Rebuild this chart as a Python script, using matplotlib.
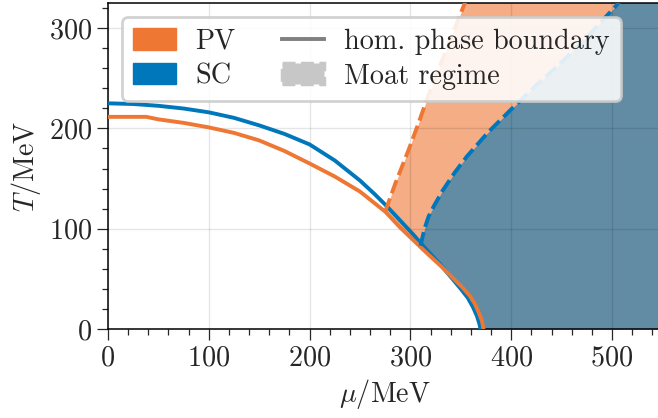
import numpy as np
import matplotlib
matplotlib.use("Agg")
import matplotlib.pyplot as plt
from matplotlib.lines import Line2D
from matplotlib.patches import Patch
from matplotlib.ticker import MultipleLocator

plt.rcParams['font.family'] = 'serif'
plt.rcParams['font.serif'] = ['cmr10']
plt.rcParams['mathtext.fontset'] = 'cm'
plt.rcParams['axes.formatter.use_mathtext'] = True

orange = '#EE7733'
blue = '#0077BB'

# homogeneous phase boundaries (mu in MeV, T in MeV)
mu_sc = [0, 25, 50, 75, 100, 125, 150, 175, 200, 225, 250, 265, 277, 290,
         303, 316, 330, 340, 350, 357, 362, 366, 368.5, 369.5]
T_sc = [225, 224.3, 222.5, 219.8, 216, 210.5, 203, 194.5, 184, 168, 148, 134,
        122, 108, 94, 79, 64, 52, 40, 31, 22, 13, 5, 0]

mu_pv = [0, 38, 50, 75, 100, 125, 150, 175, 200, 225, 250, 275, 290, 304,
         317, 330, 341, 352, 359, 364, 368, 371, 372.5]
T_pv = [211.5, 211.5, 209, 205.5, 201, 195.5, 188, 177.5, 165, 152, 137, 117,
        101, 87.5, 75, 63, 52, 41, 33, 25, 16, 8, 0]

# moat regime boundaries
mu_pv_moat = [275, 285, 298, 308, 316, 335, 356]
T_pv_moat = [117, 145, 178, 205, 228, 277, 330]

mu_sc_moat = [310, 314, 318, 323, 332, 344, 356, 377, 399, 425, 450, 476,
              503, 507]
T_sc_moat = [83, 100, 112, 122, 138, 156, 172, 196, 218, 243, 266, 292,
             321, 326]


def left_edge(mu_hom, T_hom, mu_moat, T_moat):
    # homogeneous boundary below the moat onset, then the moat boundary
    mu_hom = np.asarray(mu_hom)[::-1]
    T_hom = np.asarray(T_hom)[::-1]
    keep = T_hom < T_moat[0]
    return (np.concatenate([T_hom[keep], T_moat]),
            np.concatenate([mu_hom[keep], mu_moat]))


fig = plt.figure(figsize=(6.58, 4.18), dpi=100)
ax = fig.add_axes([108/658, 89/418, 554.4/658, 326/418])

T_l, mu_l = left_edge(mu_pv, T_pv, mu_pv_moat, T_pv_moat)
ax.fill_betweenx(T_l, mu_l, 700, color=orange, alpha=0.6, lw=0, zorder=1)
T_l, mu_l = left_edge(mu_sc, T_sc, mu_sc_moat, T_sc_moat)
ax.fill_betweenx(T_l, mu_l, 700, color=blue, alpha=0.6, lw=0, zorder=1.1)

ax.plot(mu_sc, T_sc, color=blue, lw=2.8, zorder=3)
ax.plot(mu_pv, T_pv, color=orange, lw=2.8, zorder=3.1)
ax.plot(mu_pv_moat, T_pv_moat, color=orange, lw=2.8, dashes=(3.6, 1.4), zorder=3.2)
ax.plot(mu_sc_moat, T_sc_moat, color=blue, lw=2.8, dashes=(3.6, 1.4), zorder=3.2)

ax.set_xlim(0, 550)
ax.set_ylim(0, 325)
ax.xaxis.set_major_locator(MultipleLocator(100))
ax.xaxis.set_minor_locator(MultipleLocator(20))
ax.yaxis.set_major_locator(MultipleLocator(100))
ax.yaxis.set_minor_locator(MultipleLocator(20))
ax.tick_params(which='both', direction='out', width=0.9, colors='0.15', labelsize=20.3)
ax.tick_params(which='major', length=7.7, pad=4)
ax.tick_params(which='minor', length=4.3)
for s in ax.spines.values():
    s.set_linewidth(1.1)
ax.grid(True, which='major', color='k', alpha=0.1, lw=1.0)

ax.set_xlabel(r'$\mu/\mathrm{MeV}$', fontsize=20.3, color='0.15')
ax.set_ylabel(r'$T/\mathrm{MeV}$', fontsize=20.3, color='0.15')

handles = [Patch(color=orange), Patch(color=blue),
           Line2D([], [], color='0.5', lw=2.8),
           Patch(facecolor='0.78', edgecolor='0.78', linestyle='--', lw=2.5)]
labels = ['PV', 'SC', 'hom. phase boundary', 'Moat regime']
leg = ax.legend(handles, labels, loc='upper left', ncols=2, fontsize=20.3,
                handlelength=1.5, handleheight=0.78, handletextpad=0.7,
                columnspacing=1.65, labelspacing=0.3, borderpad=0.4,
                framealpha=0.88, edgecolor='0.8', fancybox=True)
leg.get_frame().set_linewidth(2)
for t in leg.get_texts():
    t.set_color('0.15')

fig.savefig('out.png', dpi=100)
